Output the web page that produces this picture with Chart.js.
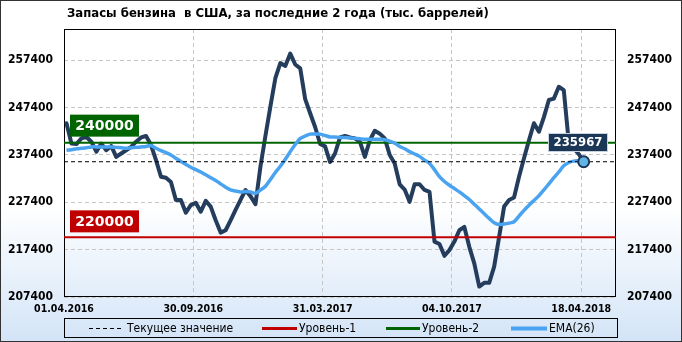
<!DOCTYPE html>
<html>
<head>
<meta charset="utf-8">
<script src="https://cdn.jsdelivr.net/npm/chart.js@4.4.1/dist/chart.umd.min.js"></script>
<style>
  html, body { margin: 0; padding: 0; background: #fff; }
  #wrap { width: 682px; height: 342px; }
</style>
</head>
<body>
<div id="wrap"><canvas id="chart" width="682" height="342"></canvas></div>
<script>
const TITLE = "Запасы бензина  в США, за последние 2 года (тыс. баррелей)";

// x axis: one point per week, labels every 26 points
const dateTicks = [0, 26, 52, 78, 104];
const dateLabels = ["01.04.2016", "30.09.2016", "31.03.2017", "04.10.2017", "18.04.2018"];
const yTicks = [207400, 217400, 227400, 237400, 247400, 257400];
const Y_MIN = 207400;
const Y_MAX = 264000;
const X_MAX = 111;

const level1 = 220000;
const level2 = 240000;

// weekly gasoline stocks, thousand barrels
const stocks = [
  244100, 239800, 239700, 240900, 241200, 240200, 238100, 239800, 238400, 239300,
  237000, 237700, 238400, 239100, 240200, 241100, 241400, 239500, 236300, 232800,
  232600, 231700, 227900, 227900, 225200, 226800, 227300, 225400, 227700, 226500,
  223600, 221000, 221500, 223600, 225800, 227900, 230000, 228700, 227000, 234900,
  241400, 247600, 253600, 256800, 256200, 258800, 256500, 255700, 249200, 246200,
  243300, 239700, 239200, 235900, 237700, 241100, 241400, 241100, 240900, 240200,
  237000, 240500, 242500, 241900, 240900, 237400, 235600, 231200, 230100, 227500,
  231200, 231200, 230000, 229600, 219100, 218600, 216100, 217300, 219100, 221500,
  222200, 218000, 214500, 209600, 210400, 210400, 213800, 220100, 226500, 227900,
  228400, 232800, 236700, 240500, 244100, 242300, 245400, 249000, 249300, 251800,
  251100, 240100, 238800, 237600, 235967
];

// EMA(26) as drawn on the chart
const ema26 = [
  238400, 238500, 238700, 238800, 238900, 239100, 239100, 239100, 239100, 239100,
  239000, 238900, 238800, 238900, 239000, 239100, 239200, 239400, 238800, 238300,
  237900, 237400, 236700, 236000, 235400, 234800, 234300, 233800, 233200, 232600,
  232000, 231300, 230600, 230000, 229800, 229600, 229700, 229600, 229300, 230000,
  230800, 232200, 233700, 235000, 236500, 238100, 239600, 240900, 241400, 241800,
  241800, 241800, 241500, 241200, 241200, 241100, 241100, 241000, 240900, 240800,
  240700, 240700, 240700, 240700, 240600, 240300, 239900, 239200, 238700, 238100,
  237600, 237100, 236300, 235600, 234300, 232800, 231800, 231000, 230300, 229600,
  228800, 228000, 227000, 226000, 225000, 224000, 223100, 222700, 222800, 223000,
  223300, 224500, 225700, 226800, 227800, 228800, 230000, 231300, 232600, 233800,
  235100, 235800, 236100, 236200, 236300
];

const current = stocks[stocks.length - 1];

// points sit in the middle of each weekly slot
const toPts = arr => arr.map((v, i) => ({ x: i + 0.5, y: v }));
const flat = v => [{ x: 0, y: v }, { x: X_MAX, y: v }];

const COND = '"DejaVu Sans Condensed", "DejaVu Sans", sans-serif';
const NAVY = "#243d5d";
const EMA_BLUE = "#4aa3f0";
const GREEN = "#006400";
const RED = "#c00000";

function tag(ctx, text, x, y, w, h, bg, font) {
  ctx.fillStyle = bg;
  ctx.fillRect(x, y, w, h);
  ctx.fillStyle = "#fff";
  ctx.font = font;
  ctx.textAlign = "center";
  ctx.textBaseline = "middle";
  ctx.fillText(text, x + w / 2, y + h / 2 + 1);
}

const decor = {
  id: "decor",
  beforeDraw(chart) {
    const { ctx, width, height } = chart;
    const g = ctx.createLinearGradient(0, 0, 0, height);
    g.addColorStop(0, "#ffffff");
    g.addColorStop(0.6, "#ffffff");
    g.addColorStop(1, "#d3e4f7");
    ctx.save();
    ctx.fillStyle = g;
    ctx.fillRect(0, 0, width, height);
    ctx.restore();
  },
  beforeDatasetsDraw(chart) {
    const { ctx, chartArea: a } = chart;
    ctx.save();
    ctx.strokeStyle = "#000";
    ctx.lineWidth = 1;
    ctx.strokeRect(a.left + 0.5, a.top + 0.5, a.width - 1, a.height - 1);
    ctx.restore();
  },
  afterDatasetsDraw(chart) {
    const { ctx } = chart;
    const y = chart.scales.y, x = chart.scales.x;
    ctx.save();
    const big = 'bold 14px "DejaVu Sans", sans-serif';
    tag(ctx, String(level2), 70, y.getPixelForValue(level2) - 28, 69, 22, GREEN, big);
    tag(ctx, String(level1), 70, y.getPixelForValue(level1) - 27, 69, 22, RED, big);

    const px = x.getPixelForValue(stocks.length - 0.5);
    const py = y.getPixelForValue(current);
    const bx = Math.round(px - 36), by = Math.round(py - 29);
    ctx.fillStyle = "#1b3657";
    ctx.fillRect(bx, by, 60, 19);
    ctx.strokeStyle = "#c9d3de";
    ctx.lineWidth = 1;
    ctx.strokeRect(bx + 0.5, by + 0.5, 59, 18);
    ctx.fillStyle = "#fff";
    ctx.font = "bold 13px " + COND;
    ctx.textAlign = "center";
    ctx.textBaseline = "middle";
    ctx.fillText(String(current), bx + 30, by + 10);
    ctx.restore();
  },
  afterDraw(chart) {
    const { ctx, width, height } = chart;
    ctx.save();
    // title
    ctx.fillStyle = "#000";
    ctx.font = "bold 13px " + COND;
    ctx.textAlign = "left";
    ctx.textBaseline = "middle";
    ctx.fillText(TITLE, 67, 14);

    // legend
    ctx.strokeStyle = "#000";
    ctx.lineWidth = 1;
    ctx.strokeRect(64.5, 318.5, 553, 19);
    const ly = 328;
    ctx.font = "12px " + COND;
    const items = [
      { x0: 89, x1: 122, color: "#000", w: 1, dash: [4, 3], text: "Текущее значение" },
      { x0: 262, x1: 297, color: RED, w: 3, dash: [], text: "Уровень-1" },
      { x0: 386, x1: 420, color: GREEN, w: 3, dash: [], text: "Уровень-2" },
      { x0: 511, x1: 547, color: EMA_BLUE, w: 4, dash: [], text: "EMA(26)" },
    ];
    items.forEach(it => {
      ctx.beginPath();
      ctx.setLineDash(it.dash);
      ctx.strokeStyle = it.color;
      ctx.lineWidth = it.w;
      ctx.moveTo(it.x0, ly + 0.5);
      ctx.lineTo(it.x1, ly + 0.5);
      ctx.stroke();
      ctx.setLineDash([]);
      ctx.fillStyle = "#000";
      ctx.fillText(it.text, it.x1 + (it.w === 1 ? 5 : 2), ly + 1);
    });

    // outer frame
    ctx.strokeStyle = "#333";
    ctx.lineWidth = 1;
    ctx.strokeRect(0.5, 0.5, width - 1, height - 1);
    ctx.restore();
  }
};

const tickFont = { family: COND, size: 12, weight: "bold" };
const gridDash = [4, 3];

new Chart(document.getElementById("chart"), {
  type: "line",
  data: {
    datasets: [
      { data: [{ x: stocks.length - 0.5, y: current }], showLine: false, pointRadius: 5.5,
        pointBackgroundColor: "#5fb5e6", pointBorderColor: "#1b3657", pointBorderWidth: 2, order: 0 },
      { data: flat(current), borderColor: "#000", borderWidth: 1, borderDash: [4, 3], pointRadius: 0, order: 1 },
      { data: toPts(ema26), borderColor: EMA_BLUE, borderWidth: 3.5, pointRadius: 0, tension: 0.3, order: 2 },
      { data: flat(level1), borderColor: RED, borderWidth: 2, pointRadius: 0, order: 3 },
      { data: flat(level2), borderColor: GREEN, borderWidth: 2, pointRadius: 0, order: 4 },
      { data: toPts(stocks), borderColor: NAVY, borderWidth: 4, pointRadius: 0, tension: 0,
        borderJoinStyle: "round", borderCapStyle: "round", order: 5 },
    ]
  },
  options: {
    responsive: false,
    animation: false,
    devicePixelRatio: 1,
    layout: { padding: { top: 29, left: 0, right: 0, bottom: 0 } },
    plugins: { legend: { display: false }, tooltip: { enabled: false }, title: { display: false } },
    scales: {
      x: {
        type: "linear",
        min: 0,
        max: X_MAX,
        afterBuildTicks: s => { s.ticks = dateTicks.map(v => ({ value: v })); },
        afterFit: s => { s.height = 45; },
        ticks: {
          callback: v => dateLabels[dateTicks.indexOf(v)],
          autoSkip: false, maxRotation: 0, padding: 6, color: "#000",
          font: { family: COND, size: 10.5, weight: "bold" }
        },
        grid: { color: "#c6c6c6", drawTicks: false },
        border: { display: false, dash: gridDash }
      },
      y: {
        position: "left",
        min: Y_MIN,
        max: Y_MAX,
        afterBuildTicks: s => { s.ticks = yTicks.map(v => ({ value: v })); },
        afterFit: s => { s.width = 64; },
        ticks: { callback: v => String(v), padding: 11, color: "#000", font: tickFont },
        grid: { color: "#c6c6c6", drawTicks: false },
        border: { display: false, dash: gridDash }
      },
      y2: {
        position: "right",
        min: Y_MIN,
        max: Y_MAX,
        afterBuildTicks: s => { s.ticks = yTicks.map(v => ({ value: v })); },
        afterFit: s => { s.width = 66; },
        ticks: { callback: v => String(v), padding: 11, color: "#000", font: tickFont },
        grid: { drawOnChartArea: false, drawTicks: false },
        border: { display: false }
      }
    }
  },
  plugins: [decor]
});
</script>
</body>
</html>
